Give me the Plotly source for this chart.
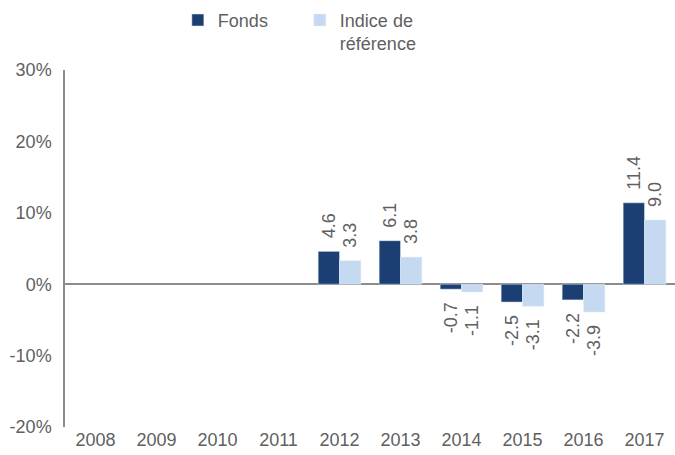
import plotly.graph_objects as go

years = ["2008", "2009", "2010", "2011", "2012", "2013", "2014", "2015", "2016", "2017"]
fonds = [None, None, None, None, 4.6, 6.1, -0.7, -2.5, -2.2, 11.4]
indice = [None, None, None, None, 3.3, 3.8, -1.1, -3.1, -3.9, 9.0]
y_ticks = [-20, -10, 0, 10, 20, 30]

PAD = "\u00a0\u00a0"

def labels(vals):
    out = []
    for v in vals:
        if v is None:
            out.append("")
        elif v >= 0:
            out.append(PAD + f"{v:.1f}")
        else:
            out.append(f"{v:.1f}" + PAD)
    return out

gray = "#5F5F5F"
fnt = "Liberation Sans, Arial, sans-serif"

fig = go.Figure()
fig.add_trace(go.Bar(x=years, y=fonds, name="Fonds", marker_color="#1B3F73",
                     text=labels(fonds), textposition="outside", textangle=-90,
                     textfont=dict(size=18, color=gray, family=fnt), cliponaxis=False))
fig.add_trace(go.Bar(x=years, y=indice, name="Indice de<br>référence", marker_color="#C5D9F1",
                     text=labels(indice), textposition="outside", textangle=-90,
                     textfont=dict(size=18, color=gray, family=fnt), cliponaxis=False))

fig.update_layout(
    width=675, height=455,
    margin=dict(l=65, r=0, t=70, b=28, autoexpand=False),
    plot_bgcolor="white", paper_bgcolor="white",
    barmode="group", bargap=0.3, bargroupgap=0,
    font=dict(family=fnt, size=17, color=gray),
    legend=dict(orientation="h", x=0.185, xanchor="left", yref="container", y=0.996, yanchor="top",
                font=dict(size=18, color=gray), entrywidth=77, traceorder="normal",
                itemwidth=30, valign="top"),
)
fig.update_traces(constraintext="none")
fig.update_xaxes(showgrid=False, showline=False, ticks="", automargin=False,
                 tickfont=dict(size=18, color=gray))
fig.update_yaxes(range=[-20, 30], tickvals=y_ticks, ticktext=[f"{v}%" for v in y_ticks],
                 showgrid=False, showline=True, linecolor="#8C8C8C", linewidth=1.5,
                 zeroline=True, zerolinecolor="#8C8C8C", zerolinewidth=2, automargin=False,
                 ticks="outside", ticklen=8, tickcolor="rgba(0,0,0,0)",
                 tickfont=dict(size=18, color=gray))
fig.write_html("out.html", config={"displayModeBar": False},
               post_script="document.body.style.margin='0';document.body.style.overflow='hidden';")
